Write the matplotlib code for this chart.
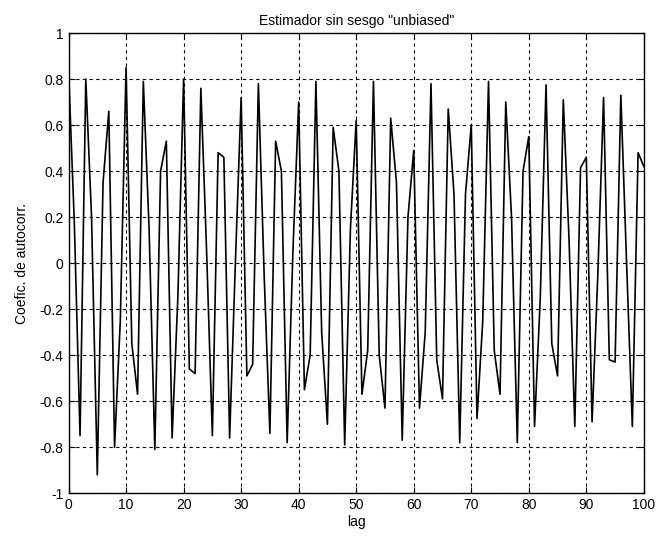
import matplotlib
matplotlib.use("Agg")
import matplotlib.pyplot as plt
import numpy as np

# coeficientes de autocorrelacion (lag 0..100)
lags = np.arange(0, 101)
coef = [
    0.84, 0.18, -0.75, 0.80, 0.20, -0.92, 0.35, 0.66, -0.80, -0.25,
    0.85, -0.35, -0.57, 0.79, 0.15, -0.81, 0.40, 0.53, -0.76, -0.15,
    0.80, -0.46, -0.48, 0.76, 0.05, -0.75, 0.48, 0.46, -0.76, 0.00,
    0.72, -0.49, -0.44, 0.78, -0.05, -0.74, 0.53, 0.40, -0.78, 0.05,
    0.70, -0.55, -0.40, 0.79, -0.30, -0.70, 0.59, 0.40, -0.79, 0.15,
    0.62, -0.57, -0.38, 0.79, -0.40, -0.63, 0.63, 0.35, -0.77, 0.20,
    0.49, -0.63, -0.30, 0.78, -0.42, -0.59, 0.67, 0.30, -0.78, 0.30,
    0.60, -0.675, -0.25, 0.79, -0.38, -0.57, 0.70, 0.20, -0.78, 0.40,
    0.55, -0.71, -0.15, 0.775, -0.35, -0.49, 0.71, 0.10, -0.71, 0.415,
    0.46, -0.69, -0.05, 0.72, -0.42, -0.43, 0.73, 0.00, -0.71, 0.48,
    0.42,
]
xticks = np.arange(0, 101, 10)
yticks = np.round(np.arange(-1, 1.01, 0.2), 1)
ytick_labels = ["-1", "-0.8", "-0.6", "-0.4", "-0.2", "0", "0.2", "0.4", "0.6", "0.8", "1"]

plt.rcParams["font.family"] = ["Liberation Sans", "DejaVu Sans"]

fig = plt.figure(figsize=(6.59, 5.42), dpi=100)
ax = fig.add_axes([0.104, 0.090, 0.873, 0.849])
ax.plot(lags, coef, color="black", linewidth=1.2)

ax.set_xlim(0, 100)
ax.set_ylim(-1, 1)
ax.set_xticks(xticks)
ax.set_yticks(yticks)
ax.set_yticklabels(ytick_labels)
ax.tick_params(direction="in", top=True, right=True, labelsize=10, length=4)
ax.grid(True, color="black", linestyle=(0, (3, 3)), linewidth=0.8)

for s in ax.spines.values():
    s.set_linewidth(1.0)

ax.set_title('Estimador sin sesgo "unbiased"', fontsize=10)
ax.set_xlabel("lag", fontsize=10, labelpad=2)
ax.set_ylabel("Coefic. de autocorr.", fontsize=10, labelpad=8)

plt.savefig("out.png", dpi=100)
plt.close()
